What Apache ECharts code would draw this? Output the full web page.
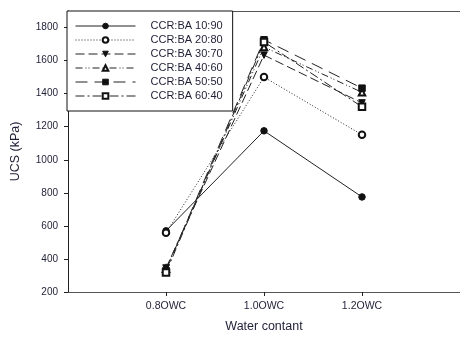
<!DOCTYPE html>
<html>
<head>
<meta charset="UTF-8">
<title>UCS chart</title>
<script src="https://cdn.jsdelivr.net/npm/echarts@6/dist/echarts.min.js"></script>
<style>
  html, body { margin: 0; padding: 0; background: #fff; }
  #chart { width: 460px; height: 338px; }
</style>
</head>
<body>
<div id="chart"></div>
<script>
// water content positions and labels
var xTicks = [0.8, 1.0, 1.2];
var xTickLabels = ['0.8OWC', '1.0OWC', '1.2OWC'];
var yTicks = [200, 400, 600, 800, 1000, 1200, 1400, 1600, 1800];

var names = ['CCR:BA 10:90', 'CCR:BA 20:80', 'CCR:BA 30:70', 'CCR:BA 40:60', 'CCR:BA 50:50', 'CCR:BA 60:40'];
var ba1090 = [570, 1175, 775];
var ba2080 = [558, 1500, 1151];
var ba3070 = [345, 1633, 1344];
var ba4060 = [340, 1682, 1408];
var ba5050 = [330, 1726, 1433];
var ba6040 = [318, 1713, 1320];

var values = [ba1090, ba2080, ba3070, ba4060, ba5050, ba6040];
var symbols = ['circle', 'emptyCircle', 'triangle', 'emptyTriangle', 'rect', 'emptyRect'];
var rotates = [0, 0, 180, 0, 0, 0];
var dashes = ['solid', [1, 2], [9, 4], [7, 3, 1, 2, 1, 3], [12, 7], [9, 3, 2, 3]];

var txt = '#1f1f36';
var ax = '#555';

var chart = echarts.init(document.getElementById('chart'));

var series = [];
for (var i = 0; i < names.length; i++) {
  var pts = [];
  for (var j = 0; j < xTicks.length; j++) {
    pts.push([xTicks[j], values[i][j]]);
  }
  series.push({
    name: names[i],
    type: 'line',
    data: pts,
    symbol: symbols[i],
    symbolRotate: rotates[i],
    symbolSize: 6.5,
    showAllSymbol: true,
    itemStyle: { color: '#111', borderColor: '#111', borderWidth: 1 },
    lineStyle: { color: '#222', width: 1, type: dashes[i] },
    animation: false
  });
}

var option = {
  backgroundColor: '#fff',
  animation: false,
  textStyle: { fontFamily: 'Liberation Sans, Arial, sans-serif' },
  grid: { left: 68, right: 0, top: 11, bottom: 43 },
  legend: {
    data: names,
    orient: 'vertical',
    left: 67,
    top: 11,
    padding: [9, 10, 9, 8],
    itemWidth: 60,
    itemHeight: 7,
    itemGap: 2,
    borderColor: '#111',
    borderWidth: 1,
    backgroundColor: '#fff',
    lineStyle: { width: 1 },
    itemStyle: { borderWidth: 1 },
    textStyle: { color: txt, fontSize: 11, lineHeight: 12, padding: [0, 0, 0, 10] }
  },
  xAxis: [{
    type: 'value',
    min: 0.6,
    max: 1.4,
    name: 'Water contant',
    nameLocation: 'middle',
    nameGap: 28,
    nameTextStyle: { color: txt, fontSize: 12.5 },
    splitLine: { show: false },
    axisLine: { lineStyle: { color: ax, width: 1 } },
    axisTick: { customValues: xTicks, length: 4, lineStyle: { color: '#222' } },
    axisLabel: {
      customValues: xTicks,
      margin: 9,
      color: txt,
      fontSize: 10.5,
      formatter: function (v) {
        for (var k = 0; k < xTicks.length; k++) {
          if (Math.abs(xTicks[k] - v) < 1e-6) return xTickLabels[k];
        }
        return '';
      }
    }
  }, {
    type: 'value',
    position: 'top',
    min: 0.6,
    max: 1.4,
    splitLine: { show: false },
    axisLine: { lineStyle: { color: ax, width: 1 } },
    axisTick: { show: false },
    axisLabel: { show: false }
  }],
  yAxis: {
    type: 'value',
    min: 200,
    max: 1900,
    name: 'UCS (kPa)',
    nameLocation: 'middle',
    nameGap: 46,
    nameTextStyle: { color: txt, fontSize: 12.5 },
    splitLine: { show: false },
    axisLine: { show: true, lineStyle: { color: '#222', width: 1 } },
    axisTick: { customValues: yTicks, length: 4, lineStyle: { color: '#222' } },
    axisLabel: {
      customValues: yTicks, margin: 10, color: txt, fontSize: 10,
      formatter: function (v) { return String(v); }
    }
  },
  series: series
};

chart.setOption(option);
</script>
</body>
</html>
